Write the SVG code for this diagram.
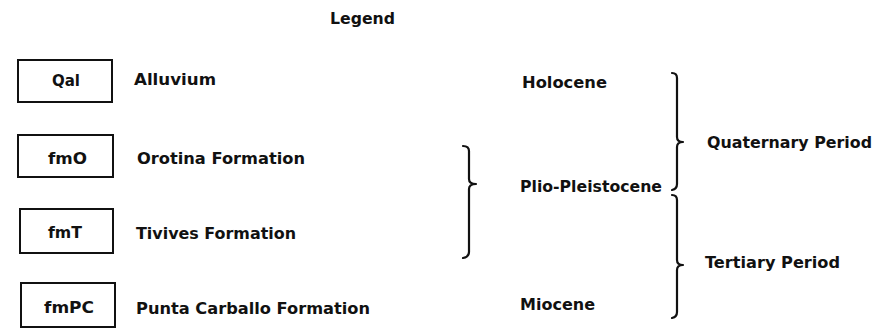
<svg xmlns="http://www.w3.org/2000/svg" width="875" height="329" viewBox="0 0 875 329">
<style>
text{font-family:"DejaVu Sans","Liberation Sans",Arial,sans-serif;font-weight:bold;font-size:16px;fill:#111}
.box{fill:#fff;stroke:#111;stroke-width:2}
.brace{fill:none;stroke:#111;stroke-width:2.2;stroke-linecap:round;stroke-linejoin:round}
</style>
<rect width="875" height="329" fill="#fff"/>
<text id="title" x="330" y="24" textLength="65" lengthAdjust="spacingAndGlyphs">Legend</text>
<g id="qal">
<rect class="box" x="18" y="60" width="94" height="42"/>
<text x="52" y="86" textLength="28" lengthAdjust="spacingAndGlyphs">Qal</text>
<text x="134" y="85" textLength="82" lengthAdjust="spacingAndGlyphs">Alluvium</text>
</g>
<g id="fmO">
<rect class="box" x="18" y="135" width="95" height="42"/>
<text x="48" y="164" textLength="39" lengthAdjust="spacingAndGlyphs">fmO</text>
<text x="137" y="164" textLength="168" lengthAdjust="spacingAndGlyphs">Orotina Formation</text>
</g>
<g id="fmT">
<rect class="box" x="20" y="209" width="93" height="44"/>
<text x="48" y="238" textLength="34" lengthAdjust="spacingAndGlyphs">fmT</text>
<text x="136" y="239" textLength="160" lengthAdjust="spacingAndGlyphs">Tivives Formation</text>
</g>
<g id="fmPC">
<rect class="box" x="21" y="283" width="94" height="44"/>
<text x="44" y="313" textLength="50" lengthAdjust="spacingAndGlyphs">fmPC</text>
<text x="136" y="314" textLength="234" lengthAdjust="spacingAndGlyphs">Punta Carballo Formation</text>
</g>
<g id="epochs">
<text x="522" y="88" textLength="85" lengthAdjust="spacingAndGlyphs">Holocene</text>
<text x="520" y="192" textLength="142" lengthAdjust="spacingAndGlyphs">Plio-Pleistocene</text>
<text x="520" y="310" textLength="75" lengthAdjust="spacingAndGlyphs">Miocene</text>
</g>
<g id="periods">
<text x="707" y="148" textLength="165" lengthAdjust="spacingAndGlyphs">Quaternary Period</text>
<text x="705" y="268" textLength="135" lengthAdjust="spacingAndGlyphs">Tertiary Period</text>
</g>
<g id="connectors">
<path class="brace" d="M463,146 Q469,146 469,151 L469,179 Q469,184 476,184 Q469,184 469,189 L469,252 Q469,257 463,258"/>
<path class="brace" d="M672,73 Q677,73 677,78 L677,137 Q677,142 683,142 Q677,142 677,147 L677,184 Q677,189 672,190"/>
<path class="brace" d="M672,195 Q677,195 677,200 L677,260 Q677,265 683,265 Q677,265 677,270 L677,312 Q677,317 672,318"/>
</g>
</svg>
